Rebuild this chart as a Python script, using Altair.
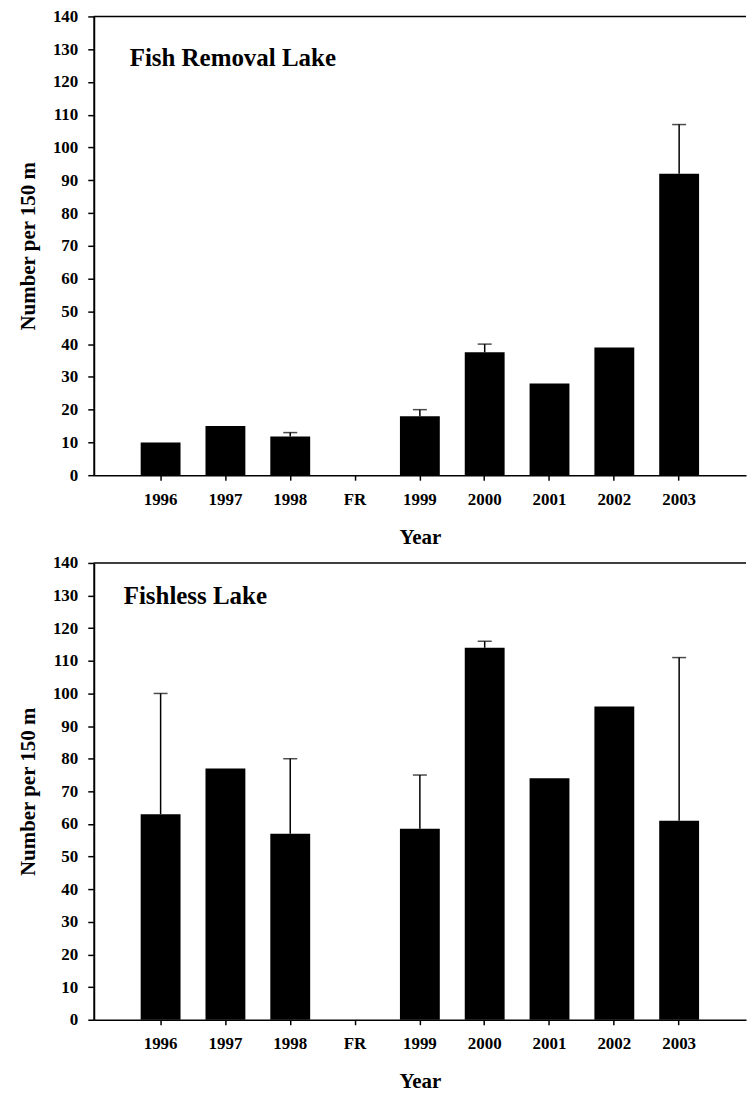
import altair as alt
import pandas as pd

categories = ["1996", "1997", "1998", "FR", "1999", "2000", "2001", "2002", "2003"]
years = ["1996", "1997", "1998", "1999", "2000", "2001", "2002", "2003"]
y_ticks = [0, 10, 20, 30, 40, 50, 60, 70, 80, 90, 100, 110, 120, 130, 140]

removal_means = [10, 15, 11.8, 18, 37.5, 28, 39, 92]
removal_upper = [None, None, 13, 20, 40, None, None, 107]

fishless_means = [63, 77, 57, 58.5, 114, 74, 96, 61]
fishless_upper = [100, None, 80, 75, 116, None, None, 111]

FONT = "Liberation Serif"
YTITLE = "Number per 150 m"


def panel(means, uppers, title, width, height, tx, ty):
    df = pd.DataFrame({"Year": years, "Mean": means})
    err = pd.DataFrame(
        [{"Year": y, "Mean": m, "Upper": u} for y, m, u in zip(years, means, uppers) if u is not None]
    )
    xscale = alt.Scale(domain=categories, paddingInner=0.385, paddingOuter=0.724)
    yscale = alt.Scale(domain=[0, 140], nice=False)
    xax = alt.Axis(title="Year", labelAngle=0)
    yax = alt.Axis(title=YTITLE, values=y_ticks, tickCount=15, labelOverlap=False)
    bars = alt.Chart(df).mark_bar(color="black").encode(
        x=alt.X("Year:N", scale=xscale, sort=categories, axis=xax),
        y=alt.Y("Mean:Q", scale=yscale, axis=yax),
    )
    rules = alt.Chart(err).mark_rule(color="black", strokeWidth=1.5).encode(
        x=alt.X("Year:N", scale=xscale, sort=categories, axis=xax),
        y=alt.Y("Mean:Q", scale=yscale, axis=yax),
        y2="Upper:Q",
    )
    caps = alt.Chart(err).mark_tick(color="black", thickness=1.5, size=14, orient="horizontal").encode(
        x=alt.X("Year:N", scale=xscale, sort=categories, axis=xax),
        y=alt.Y("Upper:Q", scale=yscale, axis=yax),
    )
    top = alt.Chart(pd.DataFrame({"v": [140]})).mark_rule(color="black", strokeWidth=1.5).encode(
        y=alt.Y("v:Q", scale=yscale, axis=yax)
    )
    label = alt.Chart(pd.DataFrame({"t": [title]})).mark_text(
        align="left", baseline="middle", font=FONT, fontSize=25, fontWeight="bold", color="black"
    ).encode(text="t:N", x=alt.value(tx), y=alt.value(ty))
    return alt.layer(bars, rules, caps, top, label).properties(width=width, height=height)


upper = panel(removal_means, removal_upper, "Fish Removal Lake", 654, 460, 36, 42)
lower = panel(fishless_means, fishless_upper, "Fishless Lake", 654, 458, 30, 33)

chart = (
    alt.vconcat(upper, lower, spacing=7)
    .properties(padding={"left": 17, "top": 6, "right": 0, "bottom": 0})
    .configure_axis(
        labelFont=FONT, labelFontWeight="bold", labelFontSize=17, labelColor="black",
        titleFont=FONT, titleFontWeight="bold", titleFontSize=21, titleColor="black",
        domainColor="black", tickColor="black", grid=False,
    )
    .configure_axisX(domainWidth=1.5, tickSize=5, tickWidth=1.5, labelPadding=11, titlePadding=19)
    .configure_axisY(domainWidth=2, tickSize=6, tickWidth=1.5, labelPadding=10, titlePadding=14)
    .configure_view(stroke=None)
)

chart.save("out.html", embed_options={"renderer": "svg", "actions": False})
